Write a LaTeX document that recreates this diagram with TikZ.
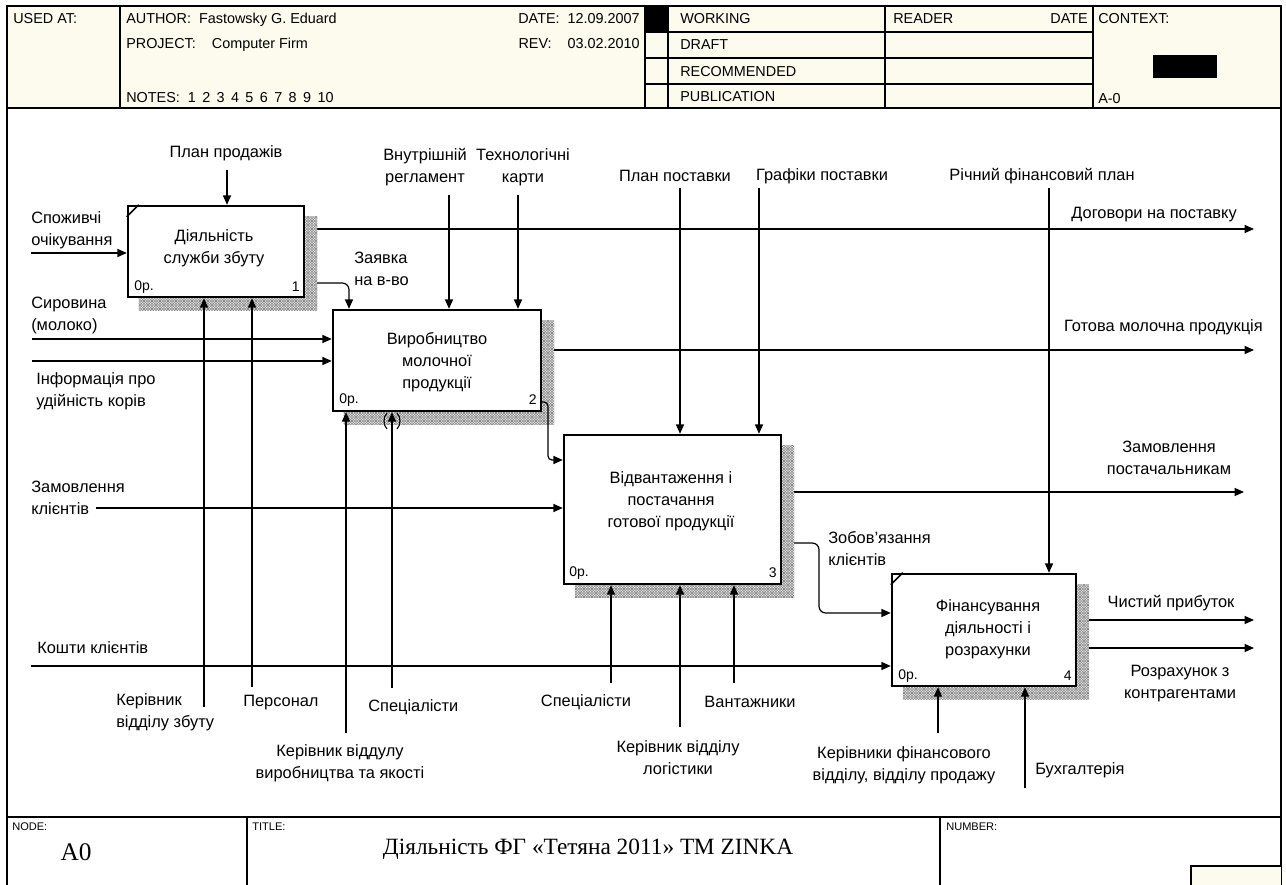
\documentclass[tikz,border=0pt]{standalone}
\usepackage{fontspec}
\setmainfont{Liberation Sans}
\newfontfamily\titlefont{Liberation Serif}
\usetikzlibrary{arrows.meta,patterns,calc}
\pgfdeclarepatternformonly{idefhatch}{\pgfqpoint{-0.5pt}{-0.5pt}}{\pgfqpoint{2.5pt}{2.5pt}}{\pgfqpoint{2pt}{2pt}}{%
  \pgfsetlinewidth{0.3pt}%
  \pgfpathmoveto{\pgfqpoint{-0.5pt}{-0.5pt}}\pgfpathlineto{\pgfqpoint{2.5pt}{2.5pt}}%
  \pgfpathmoveto{\pgfqpoint{-0.5pt}{2.5pt}}\pgfpathlineto{\pgfqpoint{2.5pt}{-0.5pt}}%
  \pgfusepath{stroke}}
\pgfdeclarelayer{paper}
\pgfdeclarelayer{outs}
\pgfdeclarelayer{shad}
\pgfsetlayers{paper,outs,shad,main}
\definecolor{cream}{RGB}{253,251,238}
\tikzset{
 box/.style={draw, line width=1.8pt, fill=white, inner sep=0pt},
 arr/.style={line width=0.9pt, -{Triangle[length=7pt,width=6pt]}},
 lbl/.style={font=\fontsize{12.3}{16.5}\selectfont, inner sep=0pt, align=center},
 lbll/.style={lbl, align=left, anchor=west},
 hdr/.style={font=\fontsize{10.8}{13}\selectfont, inner sep=0pt, anchor=base west},
 smallhdr/.style={font=\fontsize{8.3}{10}\selectfont, inner sep=0pt, anchor=base west},
 num/.style={font=\fontsize{10.5}{12}\selectfont, inner sep=0pt},
 shadowfill/.style={fill=white, postaction={pattern=idefhatch, pattern color=gray}},
 frameln/.style={line width=1pt},
 corner/.style={line width=1.2pt},
}
\begin{document}
\begin{tikzpicture}[x=0.75pt,y=-0.75pt]
\useasboundingbox (0,0) rectangle (1286,885);
\begin{pgfonlayer}{paper}
\fill[white] (0,0) rectangle (1286,885);
\fill[cream] (7,6) rectangle (1281,108);
\end{pgfonlayer}

% ---------- frame and header ----------
\draw[frameln] (7,885) -- (7,6) -- (1281,6) -- (1281,885);
\draw[frameln] (7,108) -- (1281,108);
\foreach \xx in {120,645,668,885,1093} \draw[frameln] (\xx,6) -- (\xx,108);
\foreach \yy in {32,58,84} \draw[frameln] (645,\yy) -- (1093,\yy);
\fill[black] (645,6) rectangle (668,32);
\fill[black] (1153,55) rectangle (1217,78);

\node[hdr] (hused) at (13,23) {USED AT:};
\node[hdr] (hauth) at (126,23) {AUTHOR:\ \ Fastowsky G. Eduard};
\node[hdr] (hproj) at (126,48) {PROJECT:\ \ \ \ Computer Firm};
\node[hdr] (hnotes) at (126,102) {NOTES:\ \ 1\ \,2\ \,3\ \,4\ \,5\ \,6\ \,7\ \,8\ \,9\ \,10};
\node[hdr, anchor=base east] (hdate) at (640,23) {DATE:\ \ 12.09.2007};
\node[hdr, anchor=base east] (hrev) at (640,48) {REV:\ \ \ \ 03.02.2010};
\node[hdr] (hwork) at (680,23) {WORKING};
\node[hdr] (hdraft) at (680,49) {DRAFT};
\node[hdr] (hrec) at (680,76) {RECOMMENDED};
\node[hdr] (hpub) at (680,101) {PUBLICATION};
\node[hdr] (hread) at (893,23) {READER};
\node[hdr, anchor=base east] (hrdate) at (1088,23) {DATE};
\node[hdr] (hctx) at (1098,23) {CONTEXT:};
\node[hdr] (hctxv) at (1098,103) {A-0};

% ---------- footer ----------
\fill[cream] (1191,866) rectangle (1281,885);
\draw[frameln] (1191,885) -- (1191,866) -- (1281,866);
\draw[frameln] (7,817) -- (1281,817);
\draw[frameln] (247,817) -- (247,885);
\draw[frameln] (940,817) -- (940,885);
\node[smallhdr] (fnode) at (12,830) {NODE:};
\node[smallhdr] (ftitle) at (252,830) {TITLE:};
\node[smallhdr] (fnum) at (946,830) {NUMBER:};
\node[font=\titlefont\fontsize{19}{22}\selectfont, inner sep=0pt] (fa0) at (76,852) {A0};
\node[font=\titlefont\fontsize{17.5}{20}\selectfont, inner sep=0pt] (ftext) at (588,849) {Діяльність ФГ «Тетяна 2011» ТМ ZINKA};

% ---------- boxes ----------
\node[box, minimum width=132pt, minimum height=68.25pt] (b1) at (216,251.5) {};
\node[box, minimum width=156pt, minimum height=75.75pt] (b2) at (437,360.5) {};
\node[box, minimum width=162.75pt, minimum height=111.75pt] (b3) at (672.5,509.5) {};
\node[box, minimum width=138pt, minimum height=84pt] (b4) at (984,630) {};

\begin{pgfonlayer}{shad}
\foreach \b in {b1,b2,b3,b4}
  \path[shadowfill] ($(\b.north west)+(12,12)$) rectangle ($(\b.south east)+(12,12)$);
\end{pgfonlayer}

\draw[corner] ($(b1.north west)+(0,12)$) -- ($(b1.north west)+(12,0)$);
\draw[corner] ($(b4.north west)+(0,12)$) -- ($(b4.north west)+(12,0)$);

\node[lbl] (t1) at (214,248) {Діяльність\\служби збуту};
\node[lbl] (t2) at (437,362) {Виробництво\\молочної\\продукції};
\node[lbl] (t3) at (671,501) {Відвантаження і\\постачання\\готової продукції};
\node[lbl] (t4) at (988,629) {Фінансування\\діяльності і\\розрахунки};

\node[num, anchor=west] (n1a) at (134,287) {0р.};
\node[num, anchor=east] (n1b) at (300,287) {1};
\node[num, anchor=west] (n2a) at (339,400) {0р.};
\node[num, anchor=east] (n2b) at (537,400) {2};
\node[num, anchor=west] (n3a) at (569,573) {0р.};
\node[num, anchor=east] (n3b) at (777,573) {3};
\node[num, anchor=west] (n4a) at (898,676) {0р.};
\node[num, anchor=east] (n4b) at (1072,676) {4};

% ---------- free ends ----------
\coordinate (c1) at (227,170);
\coordinate (i1) at (31,253);
\coordinate (o1) at (1254,229);
\coordinate (z1) at (349,283);
\coordinate (i2) at (32,339);
\coordinate (i3) at (32,361);
\coordinate (c2) at (449,195);
\coordinate (c3) at (518,195);
\coordinate (o2) at (1254,350);
\coordinate (k1) at (548,402);
\coordinate (k2) at (548,460);
\coordinate (i4) at (96,508);
\coordinate (c4) at (680,188);
\coordinate (c5) at (759,188);
\coordinate (o3) at (1244,492);
\coordinate (q1) at (819,543);
\coordinate (q2) at (819,613);
\coordinate (i5) at (31,666);
\coordinate (c6) at (1049,188);
\coordinate (o4) at (1254,620);
\coordinate (o5) at (1254,648);
\coordinate (m1) at (204,707);
\coordinate (m2) at (252,687);
\coordinate (m3) at (346,733);
\coordinate (m4) at (392,688);
\coordinate (m5) at (611,683);
\coordinate (m6) at (680,727);
\coordinate (m7) at (734,683);
\coordinate (m8) at (938,733);
\coordinate (m9) at (1025,788);

% ---------- outputs (under shadows) ----------
\begin{pgfonlayer}{outs}
\draw[arr] (b1.east |- o1) -- (o1);
\draw[arr, rounded corners=5pt] (b1.east |- z1) -- (z1) -- (z1 |- b2.north);
\draw[arr] (b2.east |- o2) -- (o2);
\draw[arr] (b3.east |- o3) -- (o3);
\draw[arr, rounded corners=5pt] (b3.east |- q1) -- (q1) -- (q2) -- (q2 -| b4.west);
\draw[arr] (b4.east |- o4) -- (o4);
\draw[arr] (b4.east |- o5) -- (o5);
\end{pgfonlayer}

\draw[arr, rounded corners=3pt] (b2.east |- k1) -- (k1) -- (k2) -- (k2 -| b3.west);

% inputs
\draw[arr] (i1) -- (i1 -| b1.west);
\draw[arr] (i2) -- (i2 -| b2.west);
\draw[arr] (i3) -- (i3 -| b2.west);
\draw[arr] (i4) -- (i4 -| b3.west);
\draw[arr] (i5) -- (i5 -| b4.west);
% controls
\draw[arr] (c1) -- (c1 |- b1.north);
\draw[arr] (c2) -- (c2 |- b2.north);
\draw[arr] (c3) -- (c3 |- b2.north);
\draw[arr] (c4) -- (c4 |- b3.north);
\draw[arr] (c5) -- (c5 |- b3.north);
\draw[arr] (c6) -- (c6 |- b4.north);
% mechanisms
\draw[arr] (m1) -- (m1 |- b1.south);
\draw[arr] (m2) -- (m2 |- b1.south);
\draw[arr] (m3) -- (m3 |- b2.south);
\draw[arr] (m4) -- (m4 |- b2.south);
\draw[arr] (m5) -- (m5 |- b3.south);
\draw[arr] (m6) -- (m6 |- b3.south);
\draw[arr] (m7) -- (m7 |- b3.south);
\draw[arr] (m8) -- (m8 |- b4.south);
\draw[arr] (m9) -- (m9 |- b4.south);
% tunnel marks
\draw[line width=0.8pt] (387,413) .. controls (383,417) and (383,425) .. (387,429);
\draw[line width=0.8pt] (397,413) .. controls (401,417) and (401,425) .. (397,429);

% ---------- labels ----------
\node[lbl] (lpp) at (226,153) {План продажів};
\node[lbll] (lspo) at (31,230.5) {Споживчі\\очікування};
\node[lbll] (lzay) at (354,269) {Заявка\\на в-во};
\node[lbll] (lsyr) at (31,315.5) {Сировина\\(молоко)};
\node[lbll] (linf) at (36,391) {Інформація про\\удійність корів};
\node[lbl] (lvnu) at (425,167.5) {Внутрішній\\регламент};
\node[lbl] (ltex) at (523,167.5) {Технологічні\\карти};
\node[lbl] (lplp) at (675,176) {План поставки};
\node[lbl] (lgra) at (822,176) {Графіки поставки};
\node[lbl] (lric) at (1042,176) {Річний фінансовий план};
\node[lbl, anchor=east] (ldog) at (1237,215) {Договори на поставку};
\node[lbl, anchor=east] (lgot) at (1263,327) {Готова молочна продукція};
\node[lbl] (lzps) at (1169,458) {Замовлення\\постачальникам};
\node[lbll] (lzkl) at (31,497.5) {Замовлення\\клієнтів};
\node[lbll] (lzob) at (828,548.5) {Зобов'язання\\клієнтів};
\node[lbl] (lchy) at (1171,603) {Чистий прибуток};
\node[lbl] (lroz) at (1180,684) {Розрахунок з\\контрагентами};
\node[lbll] (lkos) at (37,648) {Кошти клієнтів};
\node[lbll] (lkzb) at (116,712.5) {Керівник\\відділу збуту};
\node[lbll] (lper) at (243,703) {Персонал};
\node[lbl] (lkvy) at (340,763) {Керівник віддулу\\виробництва та якості};
\node[lbll] (lsp1) at (368,707) {Спеціалісти};
\node[lbl] (lsp2) at (586,702) {Спеціалісти};
\node[lbl] (lklo) at (678,758) {Керівник відділу\\логістики};
\node[lbl] (lvan) at (750,702) {Вантажники};
\node[lbl] (lkfi) at (904,765) {Керівники фінансового\\відділу, відділу продажу};
\node[lbll] (lbuh) at (1035,770) {Бухгалтерія};
\end{tikzpicture}
\end{document}
